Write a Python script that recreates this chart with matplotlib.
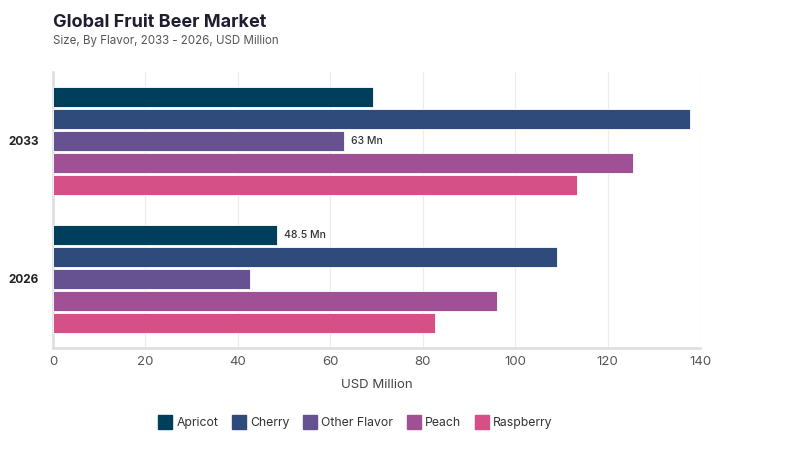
import matplotlib
matplotlib.use("Agg")
import matplotlib.pyplot as plt
from matplotlib.lines import Line2D
import numpy as np

plt.rcParams['font.family'] = ['Inter', 'DejaVu Sans']

years = ["2033", "2026"]
flavors = ["Apricot", "Cherry", "Other Flavor", "Peach", "Raspberry"]
values = {
    "Apricot":      [69.2, 48.5],
    "Cherry":       [137.9, 109.0],
    "Other Flavor": [63.0, 42.6],
    "Peach":        [125.5, 96.1],
    "Raspberry":    [113.4, 82.6],
}
colors = ["#003f5c", "#2f4b7c", "#665191", "#a05195", "#d45087"]
annotations = [("Other Flavor", 0, "63 Mn"), ("Apricot", 1, "48.5 Mn")]
xticks = [0, 20, 40, 60, 80, 100, 120, 140]

fig = plt.figure(figsize=(8, 4.5), dpi=100)
ax = fig.add_axes([0.06625, 0.2267, 0.80875, 0.6133])

slot = 0.159
h = 0.145
y = np.arange(len(years))
for j, (fl, c) in enumerate(zip(flavors, colors)):
    ax.barh(y + (j - 2) * slot, values[fl], height=h, color=c,
            edgecolor="white", linewidth=0.6, zorder=3)

for fl, i, txt in annotations:
    j = flavors.index(fl)
    ax.text(values[fl][i] + 1.5, y[i] + (j - 2) * slot, txt,
            va="center", ha="left", fontsize=7.5, color="#333333",
            fontweight="medium", zorder=4)

ax.set_ylim(1.5, -0.5)
ax.set_xlim(0, 140)
ax.set_yticks(y)
ax.set_yticklabels(years, fontsize=8.5, fontweight="bold", color="#222222")
ax.set_xticks(xticks)
ax.set_xticklabels([str(t) for t in xticks], fontsize=9.5, color="#555555")
ax.tick_params(axis="both", length=0)
ax.tick_params(axis="x", pad=6)
ax.tick_params(axis="y", pad=10)
ax.grid(axis="x", color="#ececec", linewidth=0.8, zorder=0)
ax.set_axisbelow(True)
for s in ["top", "right"]:
    ax.spines[s].set_visible(False)
ax.spines["left"].set_color("#dddddd")
ax.spines["left"].set_linewidth(1.8)
ax.spines["bottom"].set_color("#dddddd")
ax.spines["bottom"].set_linewidth(1.8)
ax.set_xlabel("USD Million", fontsize=9.5, color="#444444", labelpad=8)

fig.text(0.066, 0.951, "Global Fruit Beer Market", fontsize=13,
         fontweight="bold", color="#1e1e30", va="center", ha="left")
fig.text(0.066, 0.909, "Size, By Flavor, 2033 - 2026, USD Million", fontsize=8.3,
         color="#555555", va="center", ha="left")

handles = [Line2D([0], [0], marker="s", linestyle="none", markersize=9.5,
                  markerfacecolor=c, markeredgecolor=c) for c in colors]
fig.legend(handles, flavors, loc="center", bbox_to_anchor=(0.444, 0.06),
           ncol=5, frameon=False, fontsize=8.8, handletextpad=0.3,
           handlelength=1.2, columnspacing=1.1, labelcolor="#333333")

fig.savefig("out.png", dpi=100, facecolor="white")
